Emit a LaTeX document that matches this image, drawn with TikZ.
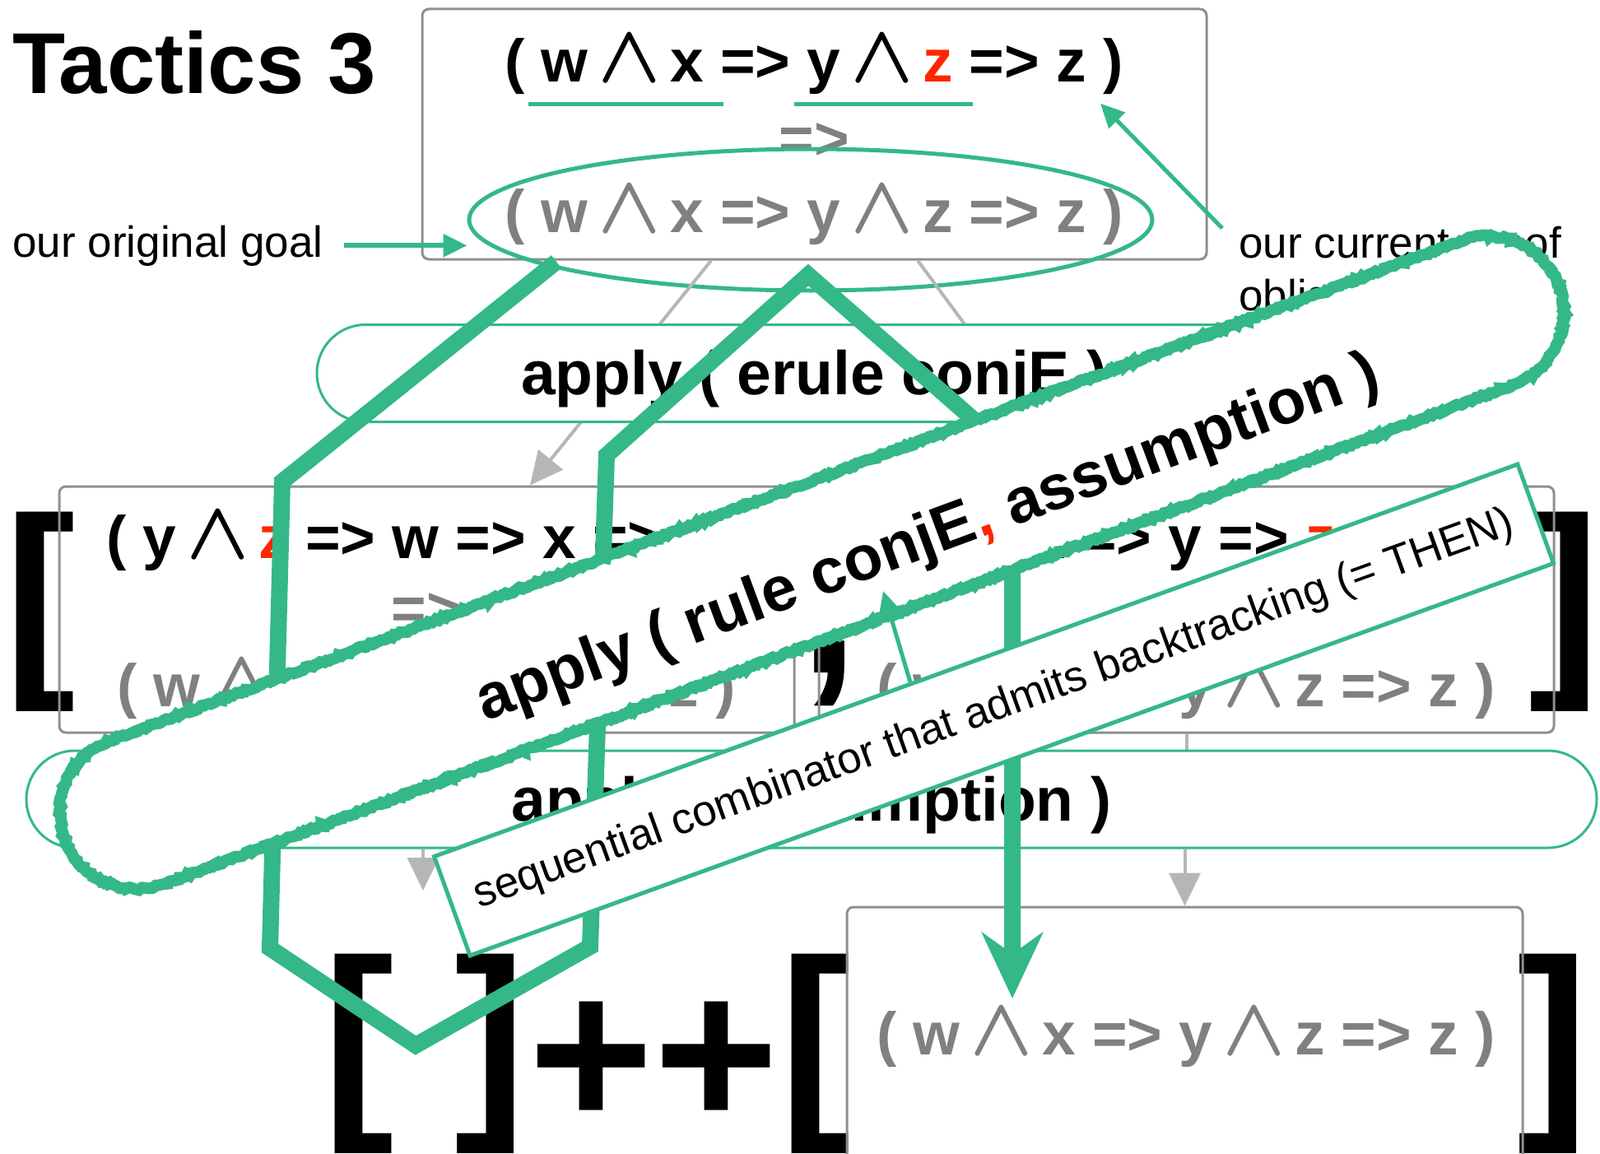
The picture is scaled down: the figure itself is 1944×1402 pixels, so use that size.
\RequirePackage{fix-cm}
\documentclass[tikz,border=0pt]{standalone}
\usepackage{fontspec}
\setmainfont{Liberation Sans}
\usepackage{xcolor}
\usetikzlibrary{arrows.meta, positioning, shapes.geometric, shapes.misc, calc, decorations.pathmorphing}

\definecolor{kgreen}{RGB}{52,184,136}
\definecolor{kred}{RGB}{255,38,0}
\definecolor{kgray}{RGB}{128,128,128}
\definecolor{kline}{RGB}{142,142,147}
\definecolor{karrow}{RGB}{182,182,182}

\newcommand{\wand}{\kern-0.12em{\fontsize{50}{50}\selectfont\boldmath$\wedge$}\kern-0.12em}
\newcommand{\rz}{\textcolor{kred}{z}}
\newcommand{\goal}{( w \wand{} x => y \wand{} z => z )}
\newcommand{\gul}[1]{\setbox0=\hbox{#1}\rlap{\kern-0.22em\smash{\textcolor{kgreen}{\rule[-0.405em]{\dimexpr\wd0+0.55em\relax}{0.07em}}}}\box0\relax}

\begin{document}
\begin{tikzpicture}[x=0.5pt, y=-0.5pt,
  frm/.style={inner sep=0pt, font=\fontsize{36.5}{44}\selectfont\bfseries},
  frmg/.style={frm, text=kgray},
  note/.style={inner sep=0pt, align=left, font=\fontsize{26.5}{32}\selectfont},
  goalbox/.style={rectangle, rounded corners=4pt, draw=kline, line width=1.5pt,
                  inner sep=0pt, minimum width=446.5pt, minimum height=149.5pt},
  tac/.style={rounded rectangle, draw=kgreen, line width=1.5pt, fill=white, inner sep=0pt,
              minimum height=59pt, text height=26pt, text depth=0pt,
              font=\fontsize{37.5}{44}\selectfont\bfseries},
  bigch/.style={inner sep=0pt, font=\fontsize{130}{150}\selectfont\bfseries},
  garr/.style={-{Triangle[length=20pt, width=19pt]}, draw=karrow, line width=2pt},
  gline/.style={draw=karrow, line width=2pt},
  grnarr/.style={-{Triangle[length=14.5pt, width=13.5pt]}, draw=kgreen, line width=3pt},
  track/.style={-{Stealth[length=40pt, width=37pt]}, draw=kgreen, line width=10pt, line join=miter},
  sketch/.style={rounded rectangle, fill=white, draw=kgreen, line width=7pt, inner sep=0pt,
                 decorate, decoration={random steps, segment length=1.5pt, amplitude=0.8pt}},
  callout/.style={rectangle, fill=white, draw=kgreen, line width=2.5pt, inner sep=0pt}
]
\useasboundingbox (0,0) rectangle (1944,1402);

%% title and the goal we start from
\node[inner sep=0pt, anchor=base west, font=\fontsize{52.5}{60}\selectfont\bfseries]
    (t_title) at (15,113) {Tactics 3};
\node[goalbox, minimum width=476.5pt, minimum height=152pt] (t_box) at (989.5,163) {};
\node[frm]  (t_goal) at (989,79)  {( \gul{w \wand{} x} => \gul{y \wand{} \rz} => z )};
\node[frmg] (t_imp)  at (989,172) {=>};
\node[frmg] (t_orig) at (989,262) {\goal};
\node[ellipse, draw=kgreen, line width=2.5pt, minimum width=415pt, minimum height=86pt]
    (t_ring) at (985,267) {};

%% side notes
\node[note, anchor=base west] (l_orig) at (15,312) {our original goal};
\draw[grnarr] ([xshift=12.5pt]l_orig.east) -- (t_ring.west |- l_orig.east);
\node[note, anchor=base west] (l_cur) at (1505,377) {our current proof\\obligation};
\draw[grnarr, line width=2.5pt] ([xshift=-10pt, yshift=-1.5pt]l_cur.north west)
    -- ([xshift=-14pt, yshift=-5.5pt]t_goal.south east);

%% two results of erule
\node[bigch] (e_lbr)   at (49,743)     {[};
\node[bigch] (e_comma) at (1008,818)   {,};
\node[bigch] (e_rbr)   at (1900.6,743) {]};
\node[goalbox] (e_left)  at (518.5,740.5)  {};
\node[goalbox] (e_right) at (1441.5,740.5) {};
\node[frm]  (e_l1) at (518,658) {( y \wand{} \rz{} => w => x => z )};
\node[frmg] (e_l2) at (518,743) {=>};
\node[frmg] (e_l3) at (518,838) {\goal};
\node[frm]  (e_r1) at (1441,658) {( w \wand{} x => y => \rz{} => z )};
\node[frmg] (e_r2) at (1441,743) {=>};
\node[frmg] (e_r3) at (1441,838) {\goal};

%% grey flow arrows (behind the tactic bars)
\draw[garr] ([xshift=-62.75pt]t_box.south) -- ([xshift=62.75pt]e_left.north);
\draw[garr] ([xshift=62.75pt]t_box.south)  -- ([xshift=-62.75pt]e_right.north);
\draw[gline] (e_left.south)  -- (e_left.south |- 0,912);
\draw[gline] (e_right.south) -- (e_right.south |- 0,912);

%% the two tactics
\node[tac, minimum width=604.5pt] (a_one) at (989.5,453.5) {apply ( erule conjE )};
\node[tac, minimum width=954pt]   (a_two) at (986,971)     {apply ( assumption )};

%% results of assumption
\node[bigch] (r_lbr)  at (435.4,1280) {[};
\node[bigch] (r_rbr)  at (595.6,1280) {]};
\node[bigch] (r_plus) at (794.5,1293) {++};
\node[bigch] (r_lbr2) at (991,1280)   {[};
\node[bigch] (r_rbr2) at (1887,1280)  {]};
\node[goalbox, minimum width=410.5pt, minimum height=159pt] (r_box) at (1439.5,1261) {};
\node[frmg] (r_goal) at (1441,1261) {\goal};
\coordinate (c_nil) at (514,1082);
\draw[garr] (a_two.south -| c_nil) -- (c_nil);
\draw[garr] (a_two.south -| r_box.north) -- (r_box.north);

%% backtracking track
\coordinate (p0) at (676,318);
\coordinate (p1) at (343,585);
\coordinate (p2) at (328,1152);
\coordinate (p3) at (505,1270);
\coordinate (p4) at (717,1150);
\coordinate (p5) at (737,553);
\coordinate (p6) at (982,334);
\coordinate (p7) at (1230,551);
\coordinate (p8) at (1230,1213);
\draw[track] (p0) -- (p1) -- (p2) -- (p3) -- (p4) -- (p5) -- (p6) -- (p7) -- (p8);

%% the combined tactic
\node[sketch, rotate=20.3, minimum width=968pt, minimum height=93pt] (b_band) at (986.5,683.5) {};
\node[rotate=20.3, inner sep=0pt, font=\fontsize{38.5}{46}\selectfont\bfseries]
    (b_text) at (1128,656) {apply ( rule conjE\textcolor{kred}{,} assumption )};
\node[callout, rotate=19.9, minimum width=700pt, minimum height=64pt,
      font=\fontsize{26.4}{32}\selectfont] (n_note) at (1207.5,862.5)
    {sequential combinator that admits backtracking (= THEN)};
\coordinate (c_comma) at (1073,718);
\draw[grnarr, line width=2.5pt] ($(n_note.north)!42pt!(n_note.north west)$) -- (c_comma);
\end{tikzpicture}
\end{document}
